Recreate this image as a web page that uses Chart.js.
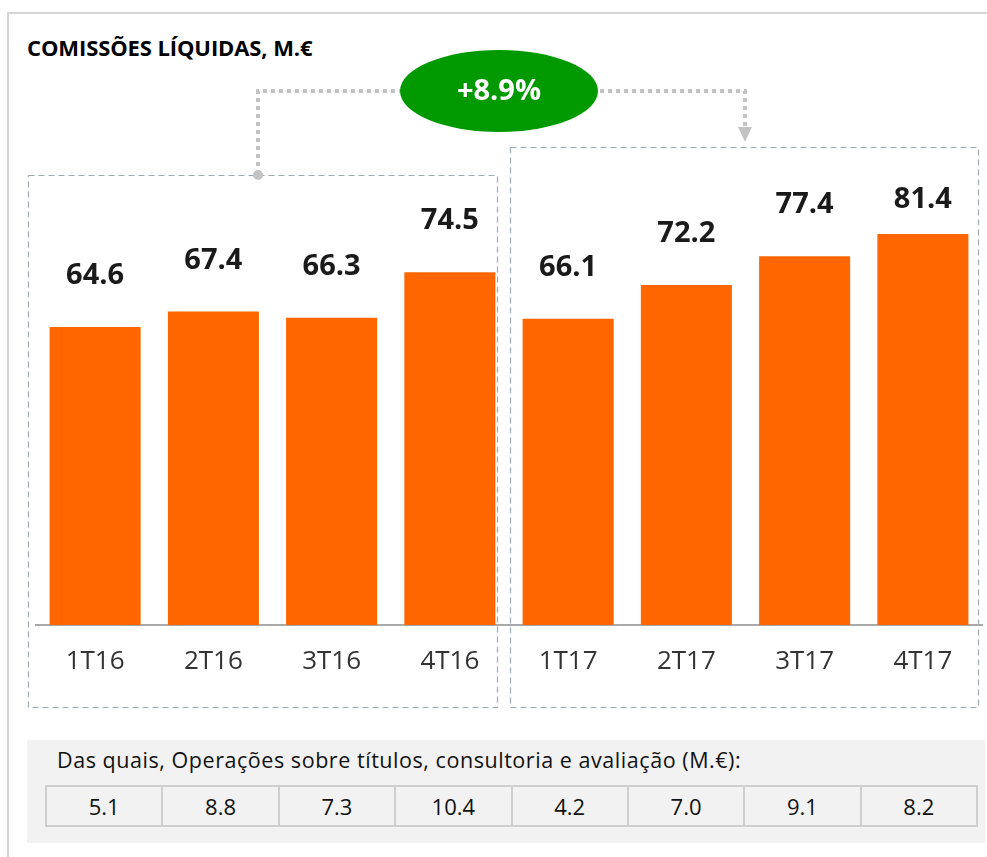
<!DOCTYPE html>
<html>
<head>
<meta charset="utf-8">
<script src="https://cdn.jsdelivr.net/npm/chart.js@4"></script>
<style>
  html, body { margin: 0; padding: 0; background: #fff; }
  body { width: 987px; height: 857px; position: relative; overflow: hidden; font-family: "Open Sans", sans-serif; }
  #frame { position: absolute; left: 7px; top: 12px; width: 990px; height: 900px; border: 2px solid #d4d4d4; box-sizing: border-box; }
  #title { position: absolute; left: 27px; top: 32px; font-weight: bold; font-size: 22px; line-height: 30px; color: #000; letter-spacing: -0.1px; }
  #chartWrap { position: absolute; left: 0; top: 0; width: 987px; height: 857px; }
  #panel { position: absolute; left: 27px; top: 740px; width: 958px; height: 103px; background: #f2f2f2; }
  #panel .cap { position: absolute; left: 30px; top: 5px; font-size: 21.5px; line-height: 30px; letter-spacing: 0.55px; color: #111; }
  #panel table { position: absolute; left: 18px; top: 45px; width: 933px; border-collapse: collapse; table-layout: fixed; }
  #panel td { border: 2px solid #cfcfcf; height: 38px; text-align: center; font-size: 22px; color: #111; padding: 0; }
</style>
</head>
<body>
<div id="frame"></div>
<div id="title">COMISSÕES LÍQUIDAS, M.€</div>
<div id="chartWrap"><canvas id="fees"></canvas></div>
<div id="panel">
  <div class="cap">Das quais, Operações sobre títulos, consultoria e avaliação (M.€):</div>
  <table><tr id="subRow"></tr></table>
</div>
<script>
// --- data ---
const quarters = ["1T16", "2T16", "3T16", "4T16", "1T17", "2T17", "3T17", "4T17"];
const netFees = [64.6, 67.4, 66.3, 74.5, 66.1, 72.2, 77.4, 81.4];
const advisoryFees = ["5.1", "8.8", "7.3", "10.4", "4.2", "7.0", "9.1", "8.2"];
const growthLabel = "+8.9%";

// sub-table below the chart
const row = document.getElementById("subRow");
advisoryFees.forEach(v => {
  const td = document.createElement("td");
  td.textContent = v;
  row.appendChild(td);
});

// --- decorations: dashed group boxes, connector, green bubble, labels ---
const decorPlugin = {
  id: "decor",
  beforeDatasetsDraw(chart) {
    const ctx = chart.ctx;
    ctx.save();
    // dashed boxes around each year
    ctx.strokeStyle = "#9fa9b0";
    ctx.lineWidth = 1.2;
    ctx.setLineDash([6, 4]);
    ctx.strokeRect(28.5, 175.5, 469, 532);
    ctx.strokeRect(510.5, 147.5, 468, 560);

    // dotted connector
    ctx.strokeStyle = "#c3c3c3";
    ctx.lineWidth = 4;
    ctx.setLineDash([4, 4]);
    ctx.beginPath();
    ctx.moveTo(258, 166);
    ctx.lineTo(258, 91);
    ctx.lineTo(402, 91);
    ctx.stroke();
    ctx.beginPath();
    ctx.moveTo(600, 91);
    ctx.lineTo(745, 91);
    ctx.lineTo(745, 128);
    ctx.stroke();
    ctx.setLineDash([]);
    ctx.fillStyle = "#c3c3c3";
    ctx.beginPath();
    ctx.moveTo(738, 127);
    ctx.lineTo(752, 127);
    ctx.lineTo(745, 142);
    ctx.closePath();
    ctx.fill();
    ctx.beginPath();
    ctx.arc(258, 175, 5, 0, Math.PI * 2);
    ctx.fill();

    // green bubble
    ctx.fillStyle = "#009a00";
    ctx.beginPath();
    ctx.ellipse(499, 91, 99, 41, 0, 0, Math.PI * 2);
    ctx.fill();
    ctx.fillStyle = "#fff";
    ctx.font = "bold 29px 'Open Sans'";
    ctx.textAlign = "center";
    ctx.textBaseline = "middle";
    ctx.fillText(growthLabel, 499, 92);
    ctx.restore();
  },
  afterDatasetsDraw(chart) {
    const ctx = chart.ctx;
    const meta = chart.getDatasetMeta(0);
    const xs = chart.scales.x;
    ctx.save();
    ctx.textAlign = "center";
    ctx.textBaseline = "middle";
    meta.data.forEach((bar, i) => {
      ctx.fillStyle = "#1a1a1a";
      ctx.font = "bold 29px 'Open Sans'";
      // top bar label sits a bit closer in the original
      const gap = i === meta.data.length - 1 ? 34 : 51;
      ctx.fillText(netFees[i].toFixed(1), bar.x, bar.y - gap);
      ctx.fillStyle = "#333";
      ctx.font = "26px 'Open Sans'";
      ctx.fillText(quarters[i], xs.getPixelForValue(i), 662);
    });
    ctx.restore();
  }
};

const ctx = document.getElementById("fees").getContext("2d");
new Chart(ctx, {
  type: "bar",
  data: {
    labels: quarters,
    datasets: [{
      data: netFees,
      backgroundColor: "#ff6600",
      categoryPercentage: 1,
      barPercentage: 0.77
    }]
  },
  options: {
    responsive: true,
    maintainAspectRatio: false,
    animation: false,
    layout: { padding: { left: 36, right: 5, top: 131, bottom: 224 } },
    plugins: { legend: { display: false }, tooltip: { enabled: false } },
    scales: {
      x: {
        grid: { display: false },
        border: { display: true, color: "#a9a9a9", width: 2 },
        ticks: { display: false }
      },
      y: { display: false, min: 10.8, max: 100 }
    }
  },
  plugins: [decorPlugin]
});
</script>
</body>
</html>
